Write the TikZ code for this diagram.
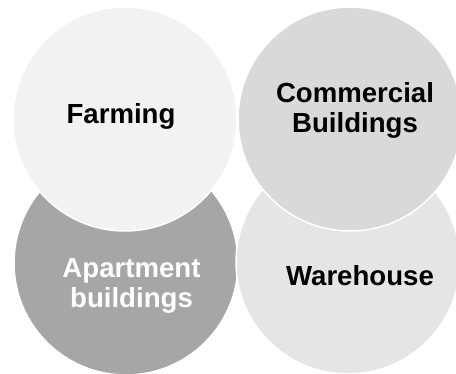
\documentclass[tikz,border=0pt]{standalone}
\usepackage{fontspec}
\setmainfont{Liberation Sans}
\usetikzlibrary{positioning}

\definecolor{farmgray}{HTML}{F2F2F2}
\definecolor{commgray}{HTML}{D9D9D9}
\definecolor{aptgray}{HTML}{A6A6A6}
\definecolor{waregray}{HTML}{E5E5E5}

\begin{document}
\begin{tikzpicture}[
    x=1pt, y=-1pt,
    every node/.style={font=\bfseries\fontsize{27.6}{30}\selectfont},
    bubble/.style={circle, draw=white, line width=1.5pt, minimum size=224pt, inner sep=0pt},
    caption/.style={align=center, inner sep=0pt, text=black},
]

% Canvas
\fill[white] (0,0) rectangle (456,374);
\useasboundingbox (0,0) rectangle (456,374);

% Circles (lower ones first)
\node[bubble, fill=aptgray] (apt) at (126,263) {};
\node[bubble, fill=farmgray] (farm) at (125,119) {};
\node[bubble, fill=waregray] (ware) at (348,262) {};
\node[bubble, fill=commgray] (comm) at (350,119) {};

% Labels
\node[caption] (farmtxt) at (121,116) {Farming};
\node[caption] (commtxt) at (355,110) {Commercial\\Buildings};
\node[caption, text=white] (apttxt) at (131.5,286) {Apartment\\buildings};
\node[caption] (waretxt) at (360,276) {Warehouse};

\end{tikzpicture}
\end{document}
